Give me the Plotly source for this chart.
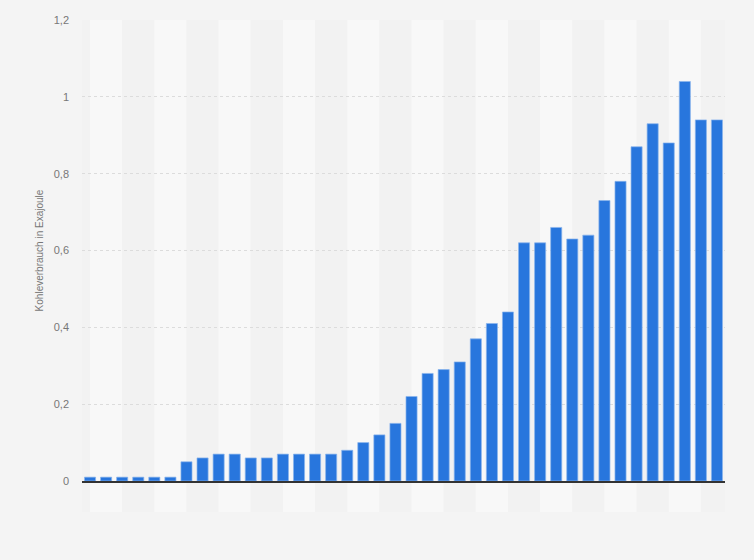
import plotly.graph_objects as go

# Kohleverbrauch in Exajoule, 40 Jahre (x-Beschriftung im Original ausgeblendet)
years = [str(y) for y in range(1981, 2021)]
consumption = [0.01, 0.01, 0.01, 0.01, 0.01, 0.01, 0.05, 0.06, 0.07, 0.07,
               0.06, 0.06, 0.07, 0.07, 0.07, 0.07, 0.08, 0.10, 0.12, 0.15,
               0.22, 0.28, 0.29, 0.31, 0.37, 0.41, 0.44, 0.62, 0.62, 0.66,
               0.63, 0.64, 0.73, 0.78, 0.87, 0.93, 0.88, 1.04, 0.94, 0.94]
y_ticks = [0, 0.2, 0.4, 0.6, 0.8, 1, 1.2]

fig = go.Figure()
fig.add_trace(go.Bar(
    x=years, y=consumption,
    marker=dict(color='#2876dd', line=dict(color='#8ab5ec', width=0.7)),
    hoverinfo='y'))

# alternating background bands, two categories each, offset to bar centres
shapes = []
for k in range(-1, 21):
    shapes.append(dict(type='rect', layer='below', xref='x', yref='paper',
                       x0=2 * k, x1=2 * k + 2, y0=-0.067, y1=1,
                       fillcolor='#f8f8f8' if k % 2 == 0 else '#f2f2f2',
                       line=dict(width=0)))
fig.update_layout(shapes=shapes)

fig.update_layout(
    width=754, height=560,
    margin=dict(l=82, r=29, t=20, b=79),
    paper_bgcolor='#f4f4f4', plot_bgcolor='rgba(0,0,0,0)',
    separators=',.',
    bargap=0.31,
    showlegend=False,
    font=dict(family='Liberation Sans, Arial, sans-serif', size=11, color='#777777'),
)
fig.update_xaxes(type='category', showticklabels=False, showgrid=False,
                 range=[-0.5, 39.5], showline=True, linecolor='#333333',
                 linewidth=1.5, ticks='', zeroline=False)
fig.update_yaxes(range=[0, 1.2], tickvals=y_ticks, showgrid=True,
                 gridcolor='#dcdcdc', griddash='dot', gridwidth=1,
                 zeroline=False, ticklabelstandoff=12,
                 title=dict(text='Kohleverbrauch in Exajoule', standoff=8,
                            font=dict(size=10, color='#777777')))

fig.write_html("out.html", config={'displayModeBar': False},
               post_script="document.body.style.margin='0';")
